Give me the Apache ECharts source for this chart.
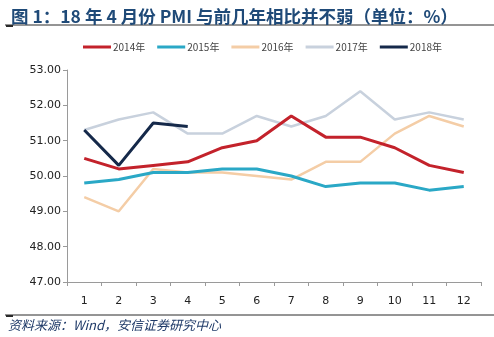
<!DOCTYPE html>
<html><head><meta charset="utf-8">
<script src="https://cdn.jsdelivr.net/npm/echarts@6/dist/echarts.min.js"></script>
<style>html,body{margin:0;padding:0;background:#fff}#c{width:494px;height:337px}</style>
</head><body><div id="c"></div>
<script>
var categories = ['1','2','3','4','5','6','7','8','9','10','11','12'];
var y2014 = [50.5, 50.2, 50.3, 50.4, 50.8, 51.0, 51.7, 51.1, 51.1, 50.8, 50.3, 50.1];
var y2015 = [49.8, 49.9, 50.1, 50.1, 50.2, 50.2, 50.0, 49.7, 49.8, 49.8, 49.6, 49.7];
var y2016 = [49.4, 49.0, 50.2, 50.1, 50.1, 50.0, 49.9, 50.4, 50.4, 51.2, 51.7, 51.4];
var y2017 = [51.3, 51.6, 51.8, 51.2, 51.2, 51.7, 51.4, 51.7, 52.4, 51.6, 51.8, 51.6];
var y2018 = [51.3, 50.3, 51.5, 51.4];
var names = ['2014年','2015年','2016年','2017年','2018年'];
var colors = ['#c3222b','#2aa8c6','#f4cda6','#c8d1dd','#15294a'];
var widths = [3, 3, 2.5, 2.5, 3];
var datas = [y2014, y2015, y2016, y2017, y2018];

var chart = echarts.init(document.getElementById('c'));
chart.setOption({
  animation: false,
  title: {
    text: '图 1：18 年 4 月份 PMI 与前几年相比并不弱（单位：%）',
    left: 6, top: 3,
    textStyle: {fontSize: 17.5, fontWeight: 'bold', color: '#1f4a78', fontFamily: 'Noto Sans CJK SC'}
  },
  legend: {
    top: 37, left: 78,
    itemWidth: 28, itemHeight: 3, itemGap: 12,
    icon: 'rect',
    textStyle: {fontSize: 10, color: '#444', fontFamily: 'Noto Sans CJK SC', padding: [0,0,0,-3]},
    data: names
  },
  grid: {left: 67, right: 13, top: 70, bottom: 55},
  xAxis: {
    type: 'category', data: categories, boundaryGap: true,
    axisLine: {lineStyle: {color: '#9a9a9a'}},
    axisTick: {show: true, alignWithLabel: false, length: 4, lineStyle: {color: '#9a9a9a'}},
    axisLabel: {color: '#222', fontSize: 11, margin: 14, fontFamily: 'DejaVu Sans'}
  },
  yAxis: {
    type: 'value', min: 47, max: 53, interval: 1,
    axisLine: {show: true, lineStyle: {color: '#9a9a9a'}},
    axisTick: {show: true, length: 4, lineStyle: {color: '#9a9a9a'}},
    splitLine: {show: false},
    axisLabel: {color: '#222', fontSize: 11, margin: 6, fontFamily: 'DejaVu Sans',
      formatter: function(v){return v.toFixed(2);}}
  },
  graphic: [
    {type: 'line', shape: {x1: 5, y1: 25, x2: 494, y2: 25}, style: {stroke: '#2a2a2a', lineWidth: 1}},
    {type: 'line', shape: {x1: 6, y1: 26, x2: 13, y2: 26}, style: {stroke: '#2a2a2a', lineWidth: 2}},
    {type: 'line', shape: {x1: 5, y1: 315, x2: 494, y2: 315}, style: {stroke: '#2a2a2a', lineWidth: 1}},
    {type: 'line', shape: {x1: 6, y1: 316, x2: 13, y2: 316}, style: {stroke: '#2a2a2a', lineWidth: 2}},
    {type: 'text', left: 8, top: 319, style: {text: '资料来源：Wind，安信证券研究中心', fontSize: 13, fontStyle: 'italic', fill: '#1f3a68', fontFamily: 'Noto Sans CJK SC'}}
  ],
  series: names.map(function(n, i){
    return {
      name: n, type: 'line', data: datas[i], symbol: 'none',
      lineStyle: {color: colors[i], width: widths[i]},
      itemStyle: {color: colors[i]},
      z: i === 4 ? 10 : (i === 0 ? 8 : 5 - i)
    };
  })
});
</script></body></html>
